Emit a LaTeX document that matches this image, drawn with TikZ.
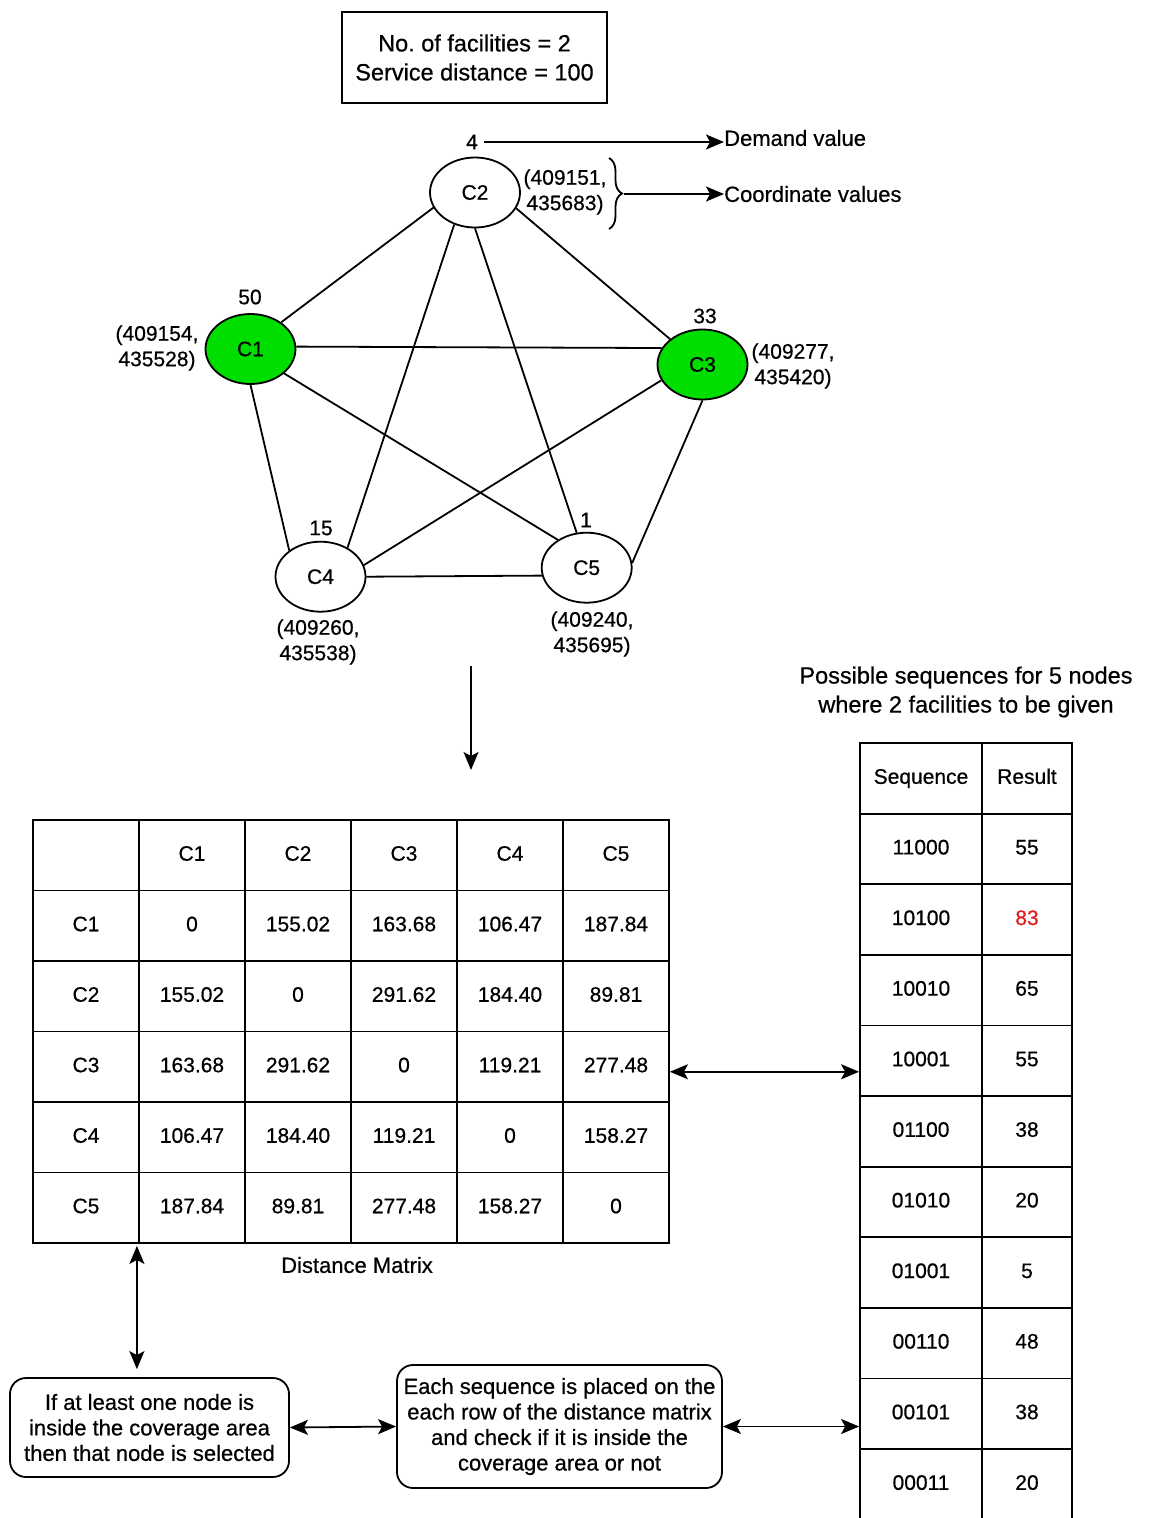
\documentclass[tikz,border=0pt]{standalone}
\usepackage{fontspec}
\setmainfont{Liberation Sans}[FakeBold=0.6]
\usetikzlibrary{arrows.meta,decorations.pathreplacing,shapes.geometric,calc}
\definecolor{nodegreen}{RGB}{0,222,0}
\definecolor{hired}{RGB}{225,30,30}
\begin{document}
\begin{tikzpicture}[x=1pt,y=-1pt,
  txt/.style={font=\fontsize{21}{25.5}\selectfont, inner sep=0pt, align=center},
  bigtxt/.style={font=\fontsize{23.5}{29}\selectfont, inner sep=0pt, align=center},
  city/.style={ellipse, draw, line width=1.8pt, minimum width=90pt, minimum height=70pt, inner sep=0pt, font=\fontsize{21}{25}\selectfont},
  fac/.style={city, fill=nodegreen},
  edge/.style={line width=1.8pt},
  tip/.tip={Stealth[length=18pt,width=15pt,inset=4pt]},
  arr/.style={line width=1.8pt, -tip},
  darr/.style={line width=1.8pt, tip-tip},
  cell/.style={draw, line width=1.8pt, minimum width=106pt, minimum height=70.5pt, inner sep=0pt, text height=15pt, text depth=4pt, font=\fontsize{21}{25}\selectfont},
  scell/.style={cell, minimum width=122pt, minimum height=70.6pt},
  rcell/.style={cell, minimum width=90pt, minimum height=70.6pt},
  rbox/.style={draw, line width=1.8pt, rounded corners=16pt, inner sep=0pt, align=center, font=\fontsize{22}{25.5}\selectfont}
]
\useasboundingbox (0,0) rectangle (1150,1518);

% parameters box
\node[draw, line width=1.8pt, minimum width=265pt, minimum height=91pt, bigtxt] (params) at (474.5,57.5) {No.\ of facilities = 2\\Service distance = 100};

% graph nodes
\node[city] (c2) at (475,192.5) {C2};
\node[fac]  (c1) at (250.5,349) {C1};
\node[fac]  (c3) at (702.5,364.5) {C3};
\node[city] (c4) at (320.5,576.7) {C4};
\node[city] (c5) at (586.7,567.7) {C5};

% demand values
\node[txt] (d2) at (472,142) {4};
\node[txt] (d1) at (250,297) {50};
\node[txt] (d3) at (705,316) {33};
\node[txt] (d4) at (321,528) {15};
\node[txt] (d5) at (586,520) {1};

% coordinates
\node[txt] (p2) at (565,192) {(409151,\\435683)};
\node[txt] (p1) at (157,348) {(409154,\\435528)};
\node[txt] (p3) at (793,366) {(409277,\\435420)};
\node[txt] (p4) at (318,642) {(409260,\\435538)};
\node[txt] (p5) at (592,634) {(409240,\\435695)};

% edges
\draw[edge] (c2.200) -- (c1.41);
\draw[edge] (c2.339) -- (c3.142);
\draw[edge] (c2.237) -- (c4.47);
\draw[edge] (c2.270) -- (c5.106);
\draw[edge] (c1.3)   -- (c3.158);
\draw[edge] (c1.270) -- (c4.140);
\draw[edge] (c1.324) -- (c5.136);
\draw[edge] (c3.201) -- (c4.15);
\draw[edge] (c3.270) -- (c5.6);
\draw[edge] (c4.0)   -- (c5.190);

% legend
\node[txt, anchor=west, font=\fontsize{22}{26}\selectfont] (dv) at (724,138) {Demand value};
\node[txt, anchor=west, font=\fontsize{22}{26}\selectfont] (cv) at (724,194) {Coordinate values};
\coordinate (d2s) at ($(d2.east)+(6,0)$);
\draw[arr] (d2s) -- (d2s -| dv.west);
\draw[line width=1.8pt, decorate, decoration={brace, amplitude=13pt}] (609,158) -- (609,229);
\coordinate (brtip) at (624,194);
\draw[arr] (brtip) -- (cv.west);

% down arrow
\coordinate (da) at (471,666);
\coordinate (db) at (471,770);
\draw[arr] (da) -- (db);

% distance matrix
\foreach \r/\row in {0/{ ,C1,C2,C3,C4,C5},
                     1/{C1,0,155.02,163.68,106.47,187.84},
                     2/{C2,155.02,0,291.62,184.40,89.81},
                     3/{C3,163.68,291.62,0,119.21,277.48},
                     4/{C4,106.47,184.40,119.21,0,158.27},
                     5/{C5,187.84,89.81,277.48,158.27,0}} {
  \foreach \v [count=\c from 0] in \row {
    \node[cell] (m\r\c) at ({86+106*\c},{855.25+70.5*\r}) {\v};
  }
}
\node[txt, font=\fontsize{22}{26}\selectfont] (dmlabel) at (357,1265) {Distance Matrix};

% sequences table
\node[bigtxt] (seqtitle) at (966,692) {Possible sequences for 5 nodes\\where 2 facilities to be given};
\node[scell] (s0) at (921,778.3) {Sequence};
\node[rcell] (r0) at (1027,778.3) {Result};
\foreach \s/\v [count=\i] in {11000/55,10100/{\textcolor{hired}{83}},10010/65,10001/55,01100/38,01010/20,01001/5,00110/48,00101/38,00011/20} {
  \node[scell] (s\i) at (921,{778.3+70.6*\i}) {\s};
  \node[rcell] (r\i) at (1027,{778.3+70.6*\i}) {\v};
}

% matrix <-> table
\coordinate (mx) at ($(m35.east)+(0,5)$);
\draw[darr] (mx) -- (mx -| s4.west);

% bottom boxes
\node[rbox, minimum width=279pt, minimum height=99pt] (sel) at (149.5,1427.5) {If at least one node is\\inside the coverage area\\then that node is selected};
\node[rbox, minimum width=325pt, minimum height=123pt] (chk) at (559.5,1426.5) {Each sequence is placed on the\\each row of the distance matrix\\and check if it is inside the\\coverage area or not};

\coordinate (vx) at ($(m50.south east)+(-3,2)$);
\coordinate (vy) at ($(vx |- sel.north)+(0,-8)$);
\draw[darr] (vx) -- (vy);
\draw[darr] (sel.east) -- (chk.west);
\draw[darr] (chk.east) -- (chk.east -| s9.west);
\end{tikzpicture}
\end{document}
